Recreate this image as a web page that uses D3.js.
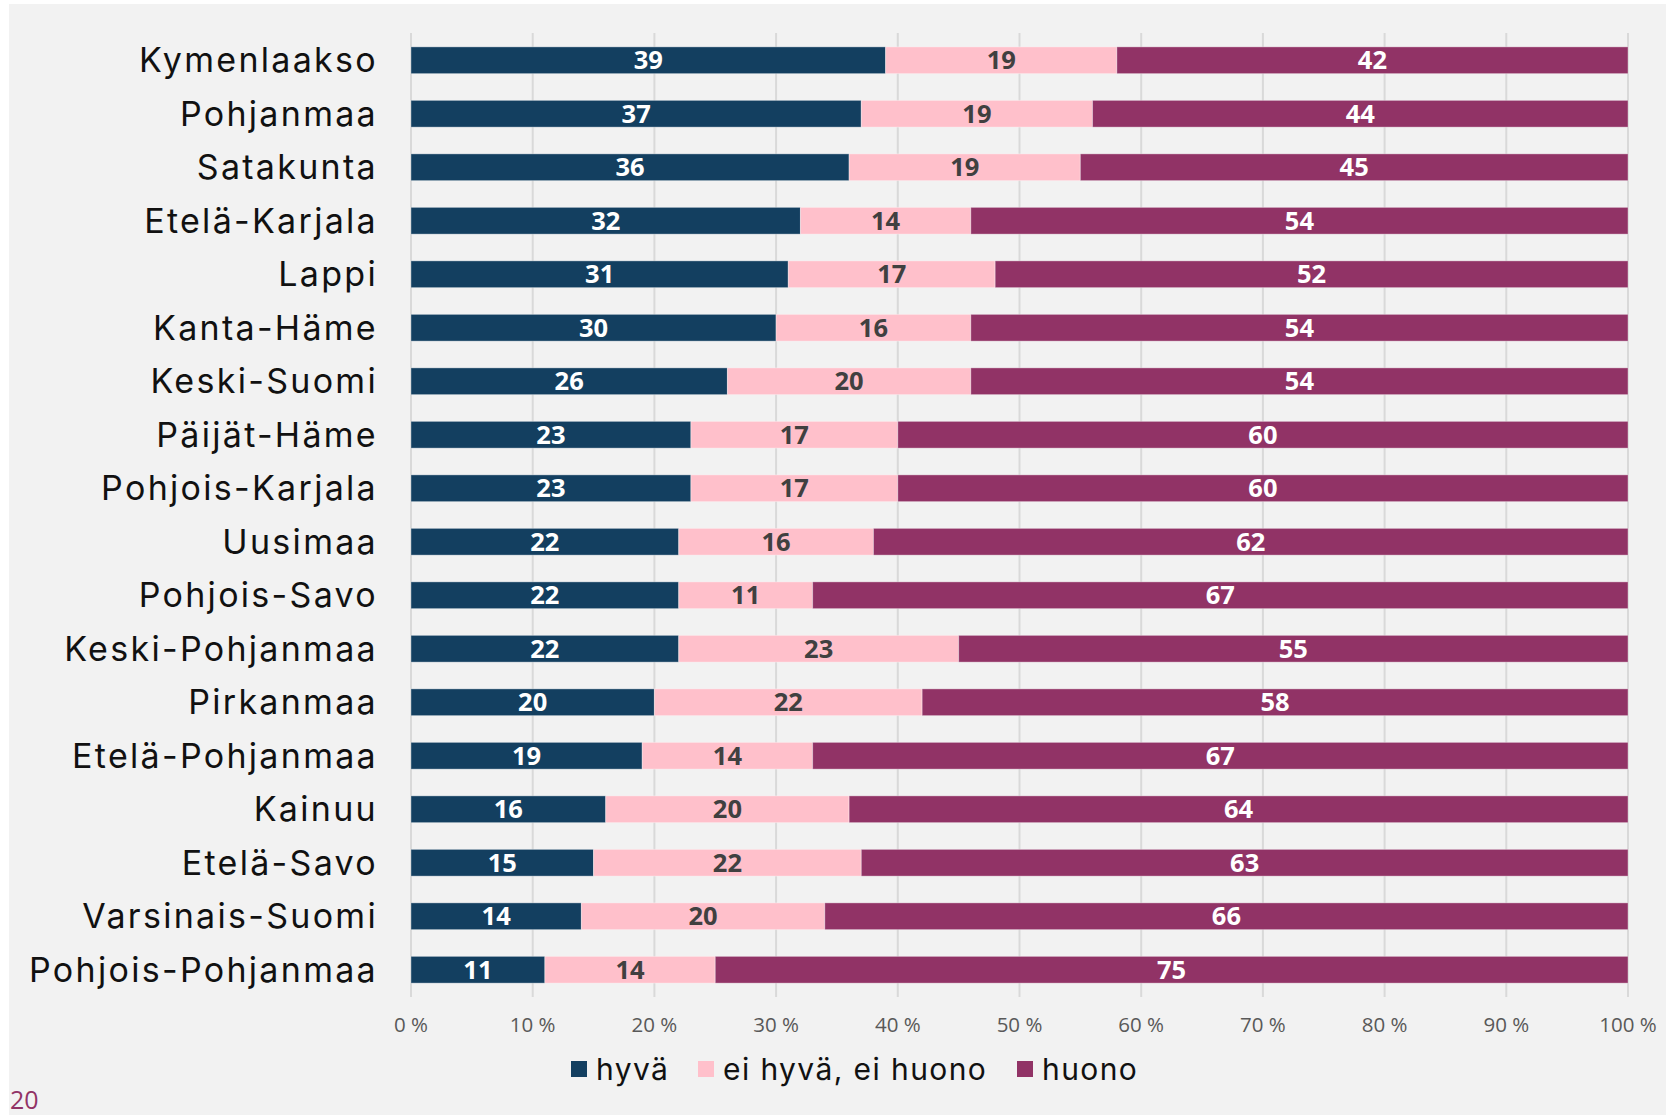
<!DOCTYPE html>
<html>
<head>
<meta charset="utf-8">
<script src="https://cdn.jsdelivr.net/npm/d3@7"></script>
<style>
  body { margin: 0; background: #ffffff; }
  svg { display: block; }
</style>
</head>
<body>
<svg id="chart" width="1666" height="1115"></svg>
<script>
// Alueet ylhäältä alas
var alueet = ["Kymenlaakso", "Pohjanmaa", "Satakunta", "Etelä-Karjala", "Lappi", "Kanta-Häme",
  "Keski-Suomi", "Päijät-Häme", "Pohjois-Karjala", "Uusimaa", "Pohjois-Savo", "Keski-Pohjanmaa",
  "Pirkanmaa", "Etelä-Pohjanmaa", "Kainuu", "Etelä-Savo", "Varsinais-Suomi", "Pohjois-Pohjanmaa"];
var hyva  = [39, 37, 36, 32, 31, 30, 26, 23, 23, 22, 22, 22, 20, 19, 16, 15, 14, 11];
var eiHyvaEiHuono = [19, 19, 19, 14, 17, 16, 20, 17, 17, 16, 11, 23, 22, 14, 20, 22, 20, 14];
var huono = [42, 44, 45, 54, 52, 54, 54, 60, 60, 62, 67, 55, 58, 67, 64, 63, 66, 75];
var sarjat = ["hyvä", "ei hyvä, ei huono", "huono"];
var varit = ["#133f60", "#ffc0cb", "#913366"];
var tekstiVarit = ["#ffffff", "#404040", "#ffffff"];
var tikit = [0, 10, 20, 30, 40, 50, 60, 70, 80, 90, 100];

var svg = d3.select("#chart");
var fontti = "'Open Sans', 'DejaVu Sans', sans-serif";
var leveaFontti = "Inter, 'DejaVu Sans', sans-serif";

// tausta
svg.append("rect").attr("x", 9).attr("y", 4).attr("width", 1657).attr("height", 1111).attr("fill", "#f2f2f2");

var x = d3.scaleLinear().domain([0, 100]).range([411, 1628]);
var y = d3.scaleBand().domain(alueet).range([33.5, 996.5]).paddingInner(0.5).paddingOuter(0.25);

// taulukko pinottavaksi
var rivit = alueet.map(function (a, i) {
  return {alue: a, "hyvä": hyva[i], "ei hyvä, ei huono": eiHyvaEiHuono[i], "huono": huono[i]};
});
var pino = d3.stack().keys(sarjat)(rivit);

// ruudukko
svg.append("g").selectAll("line").data(tikit).join("line")
  .attr("x1", function (d) { return x(d); }).attr("x2", function (d) { return x(d); })
  .attr("y1", 33).attr("y2", 997)
  .attr("stroke", "#d9d9d9").attr("stroke-width", 2);

// palkit
var ryhmat = svg.append("g").selectAll("g").data(pino).join("g")
  .attr("fill", function (d, i) { return varit[i]; });

ryhmat.selectAll("rect").data(function (d) { return d; }).join("rect")
  .attr("x", function (d) { return x(d[0]); })
  .attr("width", function (d) { return x(d[1]) - x(d[0]); })
  .attr("y", function (d) { return y(d.data.alue); })
  .attr("height", y.bandwidth())
  .attr("stroke", "rgba(255,255,255,0.35)").attr("stroke-width", 1);

// arvot palkkien sisällä
pino.forEach(function (s, i) {
  svg.append("g").selectAll("text").data(s).join("text")
    .attr("x", function (d) { return (x(d[0]) + x(d[1])) / 2; })
    .attr("y", function (d) { return y(d.data.alue) + y.bandwidth() / 2; })
    .attr("dy", "0.36em")
    .attr("text-anchor", "middle")
    .attr("font-family", fontti).attr("font-weight", 700).attr("font-size", 25.5)
    .attr("fill", tekstiVarit[i])
    .text(function (d) { return d[1] - d[0]; });
});

// alueiden nimet
svg.append("g").selectAll("text").data(alueet).join("text")
  .attr("x", 378)
  .attr("y", function (d) { return y(d) + y.bandwidth() / 2; })
  .attr("dy", "0.36em")
  .attr("text-anchor", "end")
  .attr("font-family", leveaFontti).attr("font-size", 34).attr("letter-spacing", 2.3)
  .attr("fill", "#111111")
  .text(function (d) { return d; });

// x-akselin tikit
svg.append("g").selectAll("text").data(tikit).join("text")
  .attr("x", function (d) { return x(d); })
  .attr("y", 1032)
  .attr("text-anchor", "middle")
  .attr("font-family", fontti).attr("font-size", 20.5).attr("fill", "#595959")
  .text(function (d) { return d + " %"; });

// selite
var selX = [571, 698, 1017];
var selite = svg.append("g").selectAll("g").data(sarjat).join("g")
  .attr("transform", function (d, i) { return "translate(" + selX[i] + ",1061)"; });
selite.append("rect").attr("width", 16).attr("height", 16)
  .attr("fill", function (d, i) { return varit[i]; });
selite.append("text").attr("x", 25).attr("y", 8).attr("dy", "0.36em")
  .attr("font-family", leveaFontti).attr("font-size", 30).attr("letter-spacing", 1.4)
  .attr("fill", "#111111")
  .text(function (d) { return d; });

// sivunumero
svg.append("text").attr("x", 10).attr("y", 1109)
  .attr("font-family", fontti).attr("font-size", 25).attr("fill", "#913366")
  .text("20");
</script>
</body>
</html>
